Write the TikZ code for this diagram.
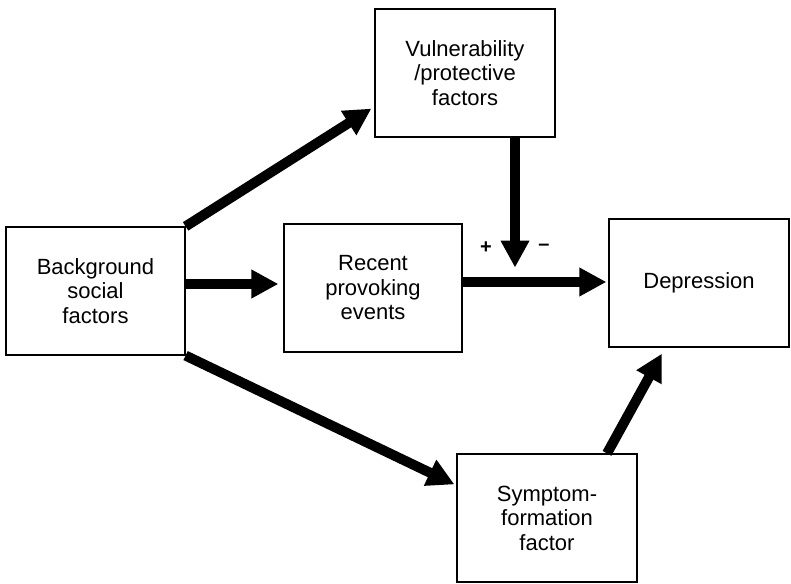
\documentclass[tikz,border=0pt]{standalone}
\usepackage{fontspec}
\setmainfont{Liberation Sans}
\usetikzlibrary{arrows.meta}
\begin{document}
\begin{tikzpicture}[x=1pt,y=1pt,
  box/.style={draw, line width=1.2pt, minimum width=180pt, minimum height=128pt, inner sep=0pt, align=center, font=\fontsize{22}{24.5}\selectfont},
  arr/.style={line width=10pt, -{Triangle[length=27pt,width=27pt]}},
  sign/.style={font=\fontsize{20}{20}\selectfont\bfseries, inner sep=0pt}]
\useasboundingbox (0,0) rectangle (791,583);
\node[box] (vul) at (465,510) {Vulnerability\\/protective\\factors};
\node[box, minimum width=179pt] (bg) at (95.5,292) {Background\\social\\factors};
\node[box, minimum width=178pt] (rec) at (373,295) {Recent\\provoking\\events};
\node[box] (dep) at (699,300) {Depression};
\node[box] (sym) at (547,65) {Symptom-\\formation\\factor};
\coordinate (j) at ([xshift=50pt,yshift=-130pt]vul.south);
\draw[arr] (bg.north east) -- ([xshift=-3pt,yshift=29pt]vul.south west);
\draw[arr] ([yshift=7pt]bg.east) -- ([xshift=-5pt,yshift=4pt]rec.west);
\draw[arr] ([yshift=6pt]rec.east) -- ([yshift=6pt,xshift=-2pt]rec.east -| dep.west);
\draw[arr] ([xshift=50pt]vul.south) -- (j);
\draw[arr] (bg.south east) -- ([xshift=-2pt,yshift=-31pt]sym.north west);
\draw[arr] ([xshift=60pt]sym.north) -- ([xshift=-37pt,yshift=-6pt]dep.south);
\node[sign] (plus) at (486,335) {+};
\node[sign] (minus) at (544,336) {\textendash};
\end{tikzpicture}
\end{document}
